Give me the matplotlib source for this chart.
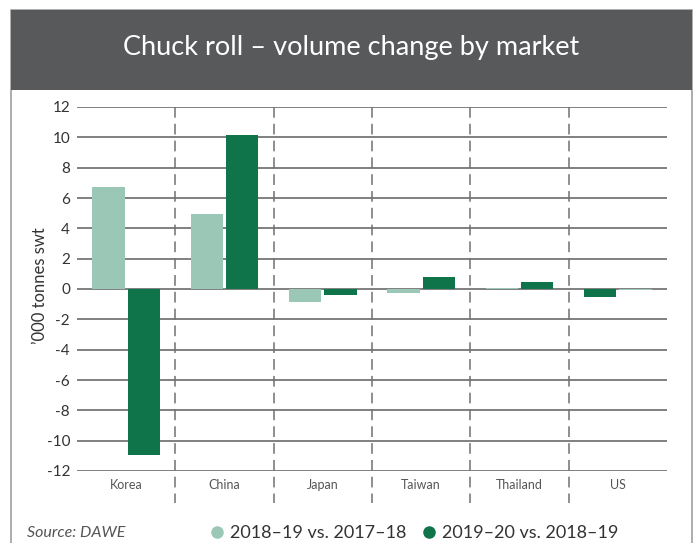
import matplotlib.pyplot as plt
import numpy as np
from matplotlib.patches import Rectangle
from matplotlib.lines import Line2D

plt.rcParams['font.family'] = ['Lato', 'DejaVu Sans']

markets = ["Korea", "China", "Japan", "Taiwan", "Thailand", "US"]
change_1819 = [6.75, 4.92, -0.83, -0.24, 0.04, -0.04]
change_1920 = [-10.95, 10.18, -0.37, 0.79, 0.46, -0.5]
series_names = ["2018\u201319 vs. 2017\u201318", "2019\u201320 vs. 2018\u201319"]
yticks = list(range(-12, 13, 2))

light = "#9bc8b6"
dark = "#10744b"
W, H = 696, 543

fig = plt.figure(figsize=(W / 100, H / 100), dpi=100)

# frame + header band
fig.patches.append(Rectangle((11 / W, -0.01), 681 / W, (H - 10) / H + 0.01,
                             transform=fig.transFigure, facecolor="white",
                             edgecolor="#a0a0a0", lw=1.2, zorder=0))
fig.patches.append(Rectangle((11 / W, (H - 90) / H), 681 / W, 80 / H,
                             transform=fig.transFigure, facecolor="#58595b",
                             edgecolor="none", zorder=1))
fig.text(351 / W, (H - 48) / H, "Chuck roll \u2013 volume change by market",
         color="white", fontsize=19.5, ha="center", va="center", zorder=2)

ax = fig.add_axes([77 / W, (H - 471) / H, 590 / W, 364 / H])
ax.set_zorder(5)
ax.patch.set_visible(False)
x = np.arange(len(markets))
w = 0.33
# US bars were drawn in reverse order in the original
order = np.where(np.array(markets) == "US", -1, 1)
ax.bar(x - 0.18 * order, change_1819, w, color=light, zorder=3)
ax.bar(x + 0.18 * order, change_1920, w, color=dark, zorder=3)

ax.set_xlim(-0.5, len(markets) - 0.5)
ax.set_ylim(-12, 12)
ax.set_yticks(yticks)
ax.set_yticklabels([str(t) for t in yticks], fontsize=11, color="#333333")
ax.set_xticks(x)
ax.set_xticklabels(markets, fontsize=9, color="#555555")
ax.tick_params(length=0, pad=5)
ax.tick_params(axis="x", pad=6)
for t in yticks:
    ax.axhline(t, color="#5e5e5e", lw=1.1, zorder=1)
for b in np.arange(0.5, len(markets) - 1, 1):
    ax.plot([b, b], [12, -14.1], color="#707070", lw=1.1,
            linestyle=(0, (7, 4)), clip_on=False, zorder=2)
for s in ax.spines.values():
    s.set_visible(False)
fig.text(40 / W, (H - 286) / H, "\u2019000 tonnes swt", rotation=90,
         fontsize=12, color="#333333", ha="center", va="center")

# footer
fig.text(27 / W, (H - 533) / H, "Source: DAWE", fontsize=11.5, style="italic",
         color="#555555", va="center")
handles = [Line2D([], [], marker="o", ls="none", color=c, markersize=8)
           for c in (light, dark)]
fig.legend(handles, series_names, loc="center", bbox_to_anchor=(414 / W, (H - 533) / H),
           ncol=2, frameon=False, fontsize=13, handletextpad=0.3,
           columnspacing=0.9, handlelength=0.8, labelcolor="#333333")

fig.savefig("out.png", dpi=100)
